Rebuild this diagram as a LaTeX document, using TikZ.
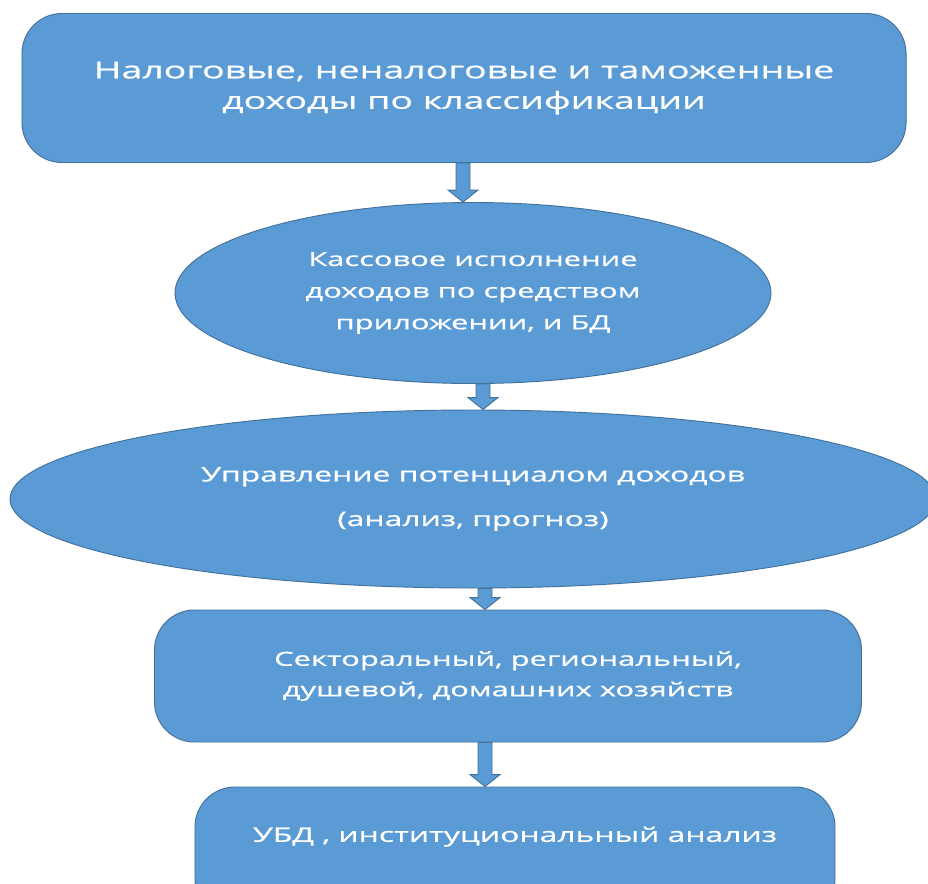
\documentclass[tikz,border=0pt]{standalone}
\usepackage{fontspec}
\setmainfont[FakeStretch=1.6,FakeBold=0.8]{Open Sans}
\usetikzlibrary{positioning,shapes.geometric,calc}
\definecolor{boxblue}{RGB}{91,155,213}
\definecolor{boxline}{RGB}{65,113,156}
% block arrow between two points
\newcommand{\flowarrow}[2]{%
  \draw[flowarr] ($(#1)+(-7,0)$) -- ($(#2)+(-7,-12)$) -- ($(#2)+(-15,-12)$)
    -- (#2) -- ($(#2)+(15,-12)$) -- ($(#2)+(7,-12)$) -- ($(#1)+(7,0)$) -- cycle;}

\begin{document}
\begin{tikzpicture}[x=0.03cm,y=-0.03cm,
  box/.style={draw=boxline,thick,fill=boxblue,rounded corners=1.2cm,text=white,align=center,inner sep=0pt},
  oval/.style={ellipse,draw=boxline,thick,fill=boxblue,text=white,align=center,inner sep=0pt},
  flowarr/.style={draw=boxline,thick,fill=boxblue,line join=miter}]
\useasboundingbox (0,0) rectangle (928,883);
\clip (0,0) rectangle (928,883);

\node[box,minimum width=26.52cm,minimum height=4.47cm,font=\fontsize{20}{26}\selectfont] (nal) at (464,88)
  {Налоговые, неналоговые и таможенные\\доходы по классификации};
\node[oval,minimum width=17.88cm,minimum height=5.43cm,font=\fontsize{16.5}{27}\selectfont] (kas) at (473,293)
  {Кассовое исполнение\\доходов по средством\\приложении, и БД};
\node[oval,minimum width=27.78cm,minimum height=5.34cm,font=\fontsize{17}{38}\selectfont] (upr) at (473,499)
  {Управление потенциалом доходов\\(анализ, прогноз)};
\node[box,minimum width=21.21cm,minimum height=3.96cm,font=\fontsize{16.5}{26}\selectfont] (sek) at (508,676)
  {Секторальный, региональный,\\душевой, домашних хозяйств};
\node[box,minimum width=19.2cm,minimum height=3.96cm,font=\fontsize{17}{28}\selectfont] (ubd) at (515,853)
  {УБД , институциональный анализ\\[4pt]};

\coordinate (a1) at (463,0);
\coordinate (a2) at (483,0);
\coordinate (a3) at (485,0);
\flowarrow{nal.south -| a1}{kas.north -| a1}
\flowarrow{kas.south -| a2}{upr.north -| a2}
\flowarrow{upr.south -| a3}{sek.north -| a3}
\flowarrow{sek.south -| a3}{ubd.north -| a3}
\end{tikzpicture}
\end{document}
